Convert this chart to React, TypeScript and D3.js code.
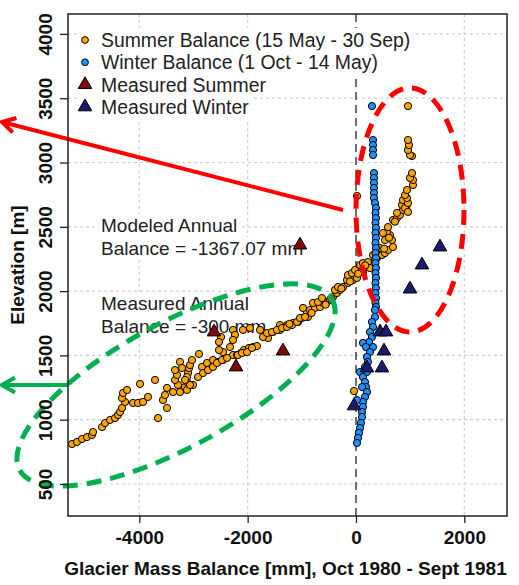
import React, { useEffect, useRef } from "react";
import * as d3 from "d3";

const WIDTH = 519;
const HEIGHT = 585;

const xTicks = [-4000, -2000, 0, 2000];
const yTicks = [500, 1000, 1500, 2000, 2500, 3000, 3500, 4000];

// [mass balance (mm), elevation (m)] per modelled grid cell, 15 May - 30 Sep
const summerBalance: [number, number][] = [
  [-5243, 811], [-5150, 827], [-5058, 850], [-4966, 865], [-4874, 881], [-4855, 904],
  [-4689, 943], [-4633, 974], [-4541, 998], [-4449, 1013], [-4394, 1037], [-4357, 1060],
  [-4320, 1091], [-4264, 1138], [-4320, 1169], [-4301, 1208], [-4227, 1231], [-4117, 1130],
  [-4024, 1130], [-3932, 1138], [-3840, 1177], [-3987, 1278], [-3710, 1309], [-3655, 1013],
  [-3489, 1091], [-3563, 1153], [-3526, 1192], [-3489, 1247], [-3378, 1215], [-3249, 1215],
  [-3286, 1270], [-3341, 1309], [-3304, 1348], [-3341, 1386], [-3249, 1449], [-3157, 1254],
  [-3120, 1293], [-3120, 1231], [-3101, 1363], [-3083, 1402], [-3212, 1402], [-3120, 1332],
  [-3064, 1425], [-3027, 1464], [-2898, 1511], [-3009, 1270], [-2843, 1410], [-2751, 1441],
  [-2640, 1464], [-2547, 1449], [-2455, 1464], [-2455, 1526], [-2529, 1542], [-2492, 1643],
  [-2529, 1604], [-2271, 1698], [-2234, 1659], [-2271, 1620], [-2326, 1565], [-2271, 1503],
  [-2197, 1503], [-2123, 1519], [-2068, 1542], [-1975, 1558], [-1901, 1565], [-1828, 1573],
  [-2086, 1698], [-1957, 1713], [-1772, 1698], [-1624, 1635], [-1532, 1682], [-1403, 1698],
  [-1403, 1736], [-1274, 1736], [-1163, 1752], [-1071, 1760], [-997, 1791], [-905, 1837],
  [-886, 1799], [-2917, 1332], [-2824, 1363], [-2732, 1386], [-2640, 1410], [-2566, 1441],
  [-2474, 1464], [-2381, 1480], [-2178, 1503], [-2104, 1519], [-2012, 1526], [-1920, 1558],
  [-3064, 1270], [-3157, 1309], [-1717, 1643], [-1643, 1674], [-1551, 1682], [-1458, 1698],
  [-1366, 1713], [-1274, 1721], [-1181, 1736], [-1089, 1760], [-1034, 1791], [-941, 1799],
  [-849, 1853], [-757, 1869], [-665, 1876], [-609, 1908], [-535, 1915], [-480, 1931],
  [-425, 1954], [-351, 1985], [-295, 2009], [-240, 2032], [-148, 2063], [-55, 2086],
  [18, 2125], [74, 2148], [129, 2148], [203, 2187], [295, 2218], [388, 2257], [480, 2281],
  [535, 2296], [591, 2320], [683, 2343], [665, 2397], [628, 2436], [572, 2460], [591, 2498],
  [683, 2553], [757, 2568], [812, 2592], [868, 2631], [941, 2670], [-978, 1869], [-794, 1908],
  [-701, 1915], [-628, 1946], [-388, 2009], [-332, 2032], [-166, 2086], [-148, 2125],
  [-74, 2140], [-18, 2164], [18, 2102], [74, 2203], [129, 2218], [221, 2226], [258, 2179],
  [314, 2281], [443, 2335], [498, 2452], [535, 2397], [757, 2608], [849, 2670], [905, 2646],
  [868, 2708], [960, 2685], [941, 2724], [905, 2747], [941, 2786], [1052, 2825], [1052, 2864],
  [997, 2880], [1034, 2918], [960, 2616], [1034, 3050], [997, 3058], [960, 3097], [978, 3136],
  [960, 3175], [960, 3439], [18, 2740], [-37, 1223],
  [-1230, 1745], [-820, 1830], [-560, 1895], [-455, 1940], [-270, 2020], [-110, 2075],
  [40, 2135], [170, 2200], [350, 2240], [520, 2330], [610, 2415], [720, 2540],
];

// [mass balance (mm), elevation (m)] per modelled grid cell, 1 Oct - 14 May
const winterBalance: [number, number][] = [
  [295, 3439], [314, 3175], [314, 3136], [314, 3097], [314, 3058], [332, 2918], [332, 2880],
  [332, 2841], [332, 2802], [332, 2763], [332, 2724], [351, 2685], [369, 2646], [360, 2608],
  [369, 2568], [360, 2530], [369, 2491], [360, 2452], [369, 2413], [360, 2374], [369, 2335],
  [360, 2296], [369, 2257], [360, 2218], [369, 2179], [360, 2140], [369, 2102], [360, 2063],
  [369, 2024], [360, 1985], [369, 1946], [360, 1908], [369, 1876], [351, 1853], [351, 1799],
  [295, 1760], [314, 1721], [258, 1682], [295, 1643], [240, 1604], [129, 1597], [185, 1565],
  [314, 1565], [258, 1526], [203, 1488], [221, 1449], [166, 1410], [203, 1371], [74, 1371],
  [129, 1332], [166, 1293], [185, 1254], [111, 1254], [203, 1215], [166, 1177], [129, 1138],
  [18, 1153], [129, 1099], [111, 1060], [111, 1021], [92, 974], [74, 935], [55, 897],
  [37, 858], [18, 819],
];

// stake measurements [mass balance (mm), elevation (m)]
const measuredSummer: [number, number][] = [
  [-1034, 2358], [-2621, 1682], [-2215, 1410], [-1348, 1534],
];
const measuredWinter: [number, number][] = [
  [1551, 2343], [1218, 2203], [997, 2016], [443, 1682], [554, 1682], [517, 1534],
  [480, 1402], [203, 1402], [-37, 1107],
];

const legendLabels = [
  "Summer Balance (15 May - 30 Sep)",
  "Winter Balance (1 Oct - 14 May)",
  "Measured Summer",
  "Measured Winter",
];
const modeledNote = ["Modeled Annual", "Balance = -1367.07 mm"];
const measuredNote = ["Measured Annual", "Balance = -300 mm"];

const ORANGE = "#FFA500";
const BLUE = "#1E90FF";
const DARK_RED = "#7B0A0A";
const NAVY = "#1B1B6E";
const RED = "#FF0000";
const GREEN = "#00B050";
const FONT = "'Liberation Sans', Arial, Helvetica, sans-serif";

export default function App() {
  const ref = useRef<SVGSVGElement>(null);

  useEffect(() => {
    const svg = d3.select(ref.current as SVGSVGElement);
    svg.selectAll("*").remove();

    const left = 68, right = 507, top = 14, bottom = 516;
    const x = d3.scaleLinear().domain([-5317, 2788]).range([left, right]);
    const y = d3.scaleLinear().domain([251, 4155]).range([bottom, top]);

    svg.append("rect").attr("width", WIDTH).attr("height", HEIGHT).attr("fill", "#fff");

    // dotted grid
    const grid = svg.append("g")
      .attr("stroke", "#cfcfcf").attr("stroke-width", 1.2).attr("stroke-dasharray", "3,3");
    grid.selectAll("line.gv").data(xTicks.filter((t) => t !== 0)).join("line")
      .attr("class", "gv")
      .attr("x1", (d) => x(d)).attr("x2", (d) => x(d)).attr("y1", top).attr("y2", bottom);
    grid.selectAll("line.gh").data(yTicks).join("line")
      .attr("class", "gh")
      .attr("x1", left).attr("x2", right).attr("y1", (d) => y(d)).attr("y2", (d) => y(d));

    // zero balance line
    svg.append("line")
      .attr("x1", x(0)).attr("x2", x(0)).attr("y1", top).attr("y2", bottom)
      .attr("stroke", "#222").attr("stroke-width", 1.3).attr("stroke-dasharray", "8,5");

    // text with a white backing box
    const textBox = (g: d3.Selection<SVGGElement, unknown, null, undefined>, tx: number, ty: number, s: string, padL = 2, padR = 2) => {
      const t = g.append("text").attr("x", tx).attr("y", ty).text(s);
      const bb = (t.node() as SVGTextElement).getBBox();
      g.insert("rect", () => t.node())
        .attr("x", bb.x - padL).attr("y", bb.y - 1)
        .attr("width", bb.width + padL + padR).attr("height", bb.height + 2)
        .attr("fill", "#fff");
      return t;
    };

    const notes = svg.append("g")
      .attr("font-family", FONT).attr("font-size", 19).attr("fill", "#222");
    modeledNote.forEach((s, i) => textBox(notes, 101, 232 + i * 23, s));
    measuredNote.forEach((s, i) => textBox(notes, 101, 310 + i * 23, s));

    // modelled balances
    svg.append("g").selectAll("circle").data(summerBalance).join("circle")
      .attr("cx", (d) => x(d[0])).attr("cy", (d) => y(d[1])).attr("r", 3.6)
      .attr("fill", ORANGE).attr("stroke", "#000").attr("stroke-width", 1);
    svg.append("g").selectAll("circle").data(winterBalance).join("circle")
      .attr("cx", (d) => x(d[0])).attr("cy", (d) => y(d[1])).attr("r", 3.6)
      .attr("fill", BLUE).attr("stroke", "#000").attr("stroke-width", 1);

    // measurements
    const tri = d3.symbol(d3.symbolTriangle, 80);
    svg.append("g").selectAll("path").data(measuredSummer).join("path")
      .attr("d", tri).attr("transform", (d) => `translate(${x(d[0])},${y(d[1])})`)
      .attr("fill", DARK_RED).attr("stroke", "#000").attr("stroke-width", 1);
    svg.append("g").selectAll("path").data(measuredWinter).join("path")
      .attr("d", tri).attr("transform", (d) => `translate(${x(d[0])},${y(d[1])})`)
      .attr("fill", NAVY).attr("stroke", "#000").attr("stroke-width", 1);

    // highlighted regions
    svg.append("ellipse")
      .attr("cx", x(997)).attr("cy", y(2631)).attr("rx", 54).attr("ry", 122)
      .attr("fill", "none").attr("stroke", RED).attr("stroke-width", 5).attr("stroke-dasharray", "15,9");
    const gcx = x(-3323), gcy = y(1270);
    svg.append("ellipse")
      .attr("cx", gcx).attr("cy", gcy).attr("rx", 178).attr("ry", 62)
      .attr("transform", `rotate(-28.6,${gcx},${gcy})`)
      .attr("fill", "none").attr("stroke", GREEN).attr("stroke-width", 5).attr("stroke-dasharray", "15,9");

    const arrow = (x1: number, y1: number, x2: number, y2: number, color: string) => {
      const g = svg.append("g").attr("stroke", color).attr("stroke-width", 4).attr("fill", "none");
      g.append("line").attr("x1", x1).attr("y1", y1).attr("x2", x2).attr("y2", y2);
      const a = Math.atan2(y1 - y2, x1 - x2);
      const L = 15, spread = Math.PI / 6;
      const pts: [number, number][] = [
        [x2 + L * Math.cos(a + spread), y2 + L * Math.sin(a + spread)],
        [x2, y2],
        [x2 + L * Math.cos(a - spread), y2 + L * Math.sin(a - spread)],
      ];
      g.append("path").attr("d", d3.line()(pts)).attr("stroke-linejoin", "miter");
    };
    arrow(343, 210, 2, 122, RED);
    arrow(left, 385, 2, 385, GREEN);

    // legend
    const legend = svg.append("g")
      .attr("font-family", FONT).attr("font-size", 19.4).attr("fill", "#222");
    legendLabels.forEach((s, i) => {
      const base = 47 + i * 22.3;
      textBox(legend, 101, base, s, 24, 2);
      const cy = base - 7;
      if (i < 2) {
        legend.append("circle").attr("cx", 85).attr("cy", cy).attr("r", 3.4)
          .attr("fill", i === 0 ? ORANGE : BLUE).attr("stroke", "#000").attr("stroke-width", 1);
      } else {
        legend.append("path").attr("d", tri).attr("transform", `translate(85,${cy})`)
          .attr("fill", i === 2 ? DARK_RED : NAVY).attr("stroke", "#000").attr("stroke-width", 1);
      }
    });

    // frame
    svg.append("rect")
      .attr("x", left).attr("y", top).attr("width", right - left).attr("height", bottom - top)
      .attr("fill", "none").attr("stroke", "#222").attr("stroke-width", 1.5);

    // axes
    const xAxis = svg.append("g").attr("transform", `translate(0,${bottom})`)
      .call(d3.axisBottom(x).tickValues(xTicks).tickSize(7).tickFormat((d) => String(d)));
    xAxis.select(".domain").remove();
    xAxis.attr("font-family", FONT).attr("font-size", 19).attr("font-weight", "bold").attr("color", "#222");
    xAxis.selectAll("line").attr("stroke-width", 1.3);
    xAxis.selectAll("text").attr("y", 28).attr("dy", null).attr("fill", "#111");

    const yAxis = svg.append("g").attr("transform", `translate(${left},0)`)
      .call(d3.axisLeft(y).tickValues(yTicks).tickSize(8).tickFormat((d) => String(d)));
    yAxis.select(".domain").remove();
    yAxis.attr("font-family", FONT).attr("font-size", 19).attr("font-weight", "bold").attr("color", "#222");
    yAxis.selectAll("line").attr("stroke-width", 1.3);
    yAxis.selectAll("text")
      .attr("x", 0).attr("y", -16).attr("dy", null)
      .attr("transform", "rotate(-90)").attr("text-anchor", "middle").attr("fill", "#111");

    // axis titles
    svg.append("text")
      .attr("x", (left + right) / 2 - 2).attr("y", 575).attr("text-anchor", "middle")
      .attr("font-family", FONT).attr("font-size", 19).attr("font-weight", "bold").attr("fill", "#111")
      .text("Glacier Mass Balance [mm], Oct 1980 - Sept 1981");
    svg.append("text")
      .attr("transform", `translate(24,${(top + bottom) / 2}) rotate(-90)`).attr("text-anchor", "middle")
      .attr("font-family", FONT).attr("font-size", 19).attr("font-weight", "bold").attr("fill", "#111")
      .text("Elevation [m]");
  }, []);

  return (
    <svg
      ref={ref}
      width={WIDTH}
      height={HEIGHT}
      style={{ position: "absolute", left: 0, top: 0, display: "block" }}
    />
  );
}
